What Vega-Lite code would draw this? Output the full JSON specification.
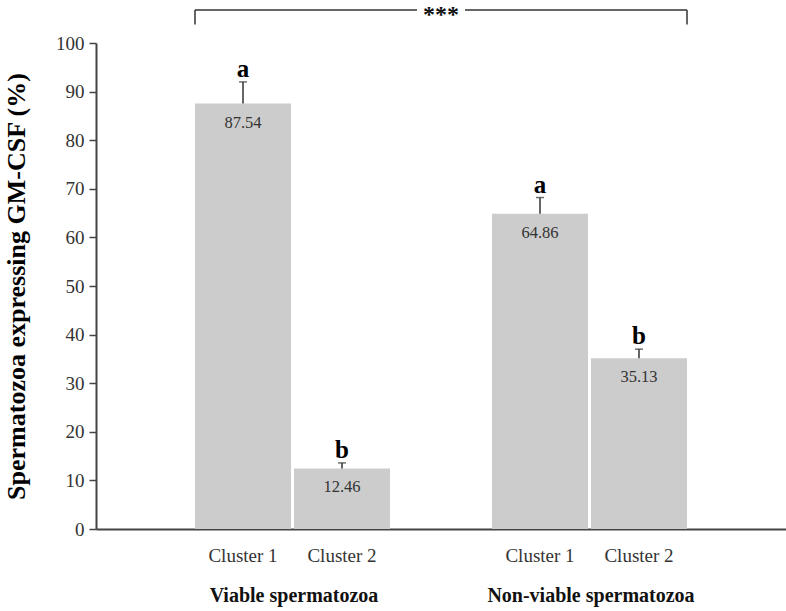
{
  "$schema": "https://vega.github.io/schema/vega-lite/v6.json",
  "width": 690,
  "height": 486,
  "autosize": {"type": "none"},
  "padding": {"left": 96, "top": 43, "right": 0, "bottom": 82},
  "background": "white",
  "config": {"view": {"stroke": null}, "font": "Liberation Serif"},
  "datasets": {
    "bars": [
      {"group": "Viable spermatozoa", "cluster": "Cluster 1", "key": "V1", "mean": 87.54, "upper": 92.0, "letter": "a"},
      {"group": "Viable spermatozoa", "cluster": "Cluster 2", "key": "V2", "mean": 12.46, "upper": 13.6, "letter": "b"},
      {"group": "Non-viable spermatozoa", "cluster": "Cluster 1", "key": "N1", "mean": 64.86, "upper": 68.2, "letter": "a"},
      {"group": "Non-viable spermatozoa", "cluster": "Cluster 2", "key": "N2", "mean": 35.13, "upper": 37.0, "letter": "b"}
    ],
    "groups": [
      {"group": "Viable spermatozoa", "second": "V2"},
      {"group": "Non-viable spermatozoa", "second": "N2"}
    ],
    "bracket": [
      {"start": "V1", "mid": "G", "end": "N2", "label": "***"}
    ]
  },
  "encoding": {
    "x": {
      "field": "key",
      "type": "nominal",
      "scale": {"domain": ["L", "V1", "V2", "G", "N1", "N2", "R"], "paddingInner": 0.03, "paddingOuter": 0},
      "axis": {
        "title": null,
        "ticks": false,
        "labelAngle": 0,
        "labelExpr": "datum.value == 'V1' || datum.value == 'N1' ? 'Cluster 1' : (datum.value == 'V2' || datum.value == 'N2' ? 'Cluster 2' : '')",
        "labelFont": "Liberation Serif",
        "labelFontSize": 19,
        "labelColor": "#333333",
        "labelPadding": 17,
        "domainColor": "#444444",
        "domainWidth": 2,
        "grid": false
      }
    }
  },
  "layer": [
    {
      "data": {"name": "bars"},
      "mark": {"type": "bar", "color": "#cccccc"},
      "encoding": {
        "y": {
          "field": "mean",
          "type": "quantitative",
          "scale": {"domain": [0, 100], "nice": false},
          "axis": {
            "title": "Spermatozoa expressing GM-CSF (%)",
            "titleFont": "Liberation Serif",
            "titleFontSize": 26,
            "titleFontWeight": "bold",
            "titleColor": "#000000",
            "titleAngle": -90,
            "titleX": -80,
            "titleY": 243,
            "titleAlign": "center",
            "titleBaseline": "middle",
            "values": [0, 10, 20, 30, 40, 50, 60, 70, 80, 90, 100],
            "labelFont": "Liberation Serif",
            "labelFontSize": 19,
            "labelColor": "#333333",
            "labelPadding": 5,
            "tickSize": 7,
            "tickColor": "#444444",
            "tickWidth": 1.5,
            "domainColor": "#444444",
            "domainWidth": 2,
            "grid": false
          }
        }
      }
    },
    {
      "data": {"name": "bars"},
      "mark": {"type": "rule", "color": "#333333", "strokeWidth": 1.5},
      "encoding": {
        "y": {"field": "mean", "type": "quantitative"},
        "y2": {"field": "upper"}
      }
    },
    {
      "data": {"name": "bars"},
      "mark": {"type": "tick", "orient": "horizontal", "color": "#333333", "size": 8, "thickness": 1.5},
      "encoding": {
        "y": {"field": "upper", "type": "quantitative"}
      }
    },
    {
      "data": {"name": "bars"},
      "mark": {"type": "text", "font": "Liberation Serif", "fontSize": 25, "fontWeight": "bold", "color": "#000000", "baseline": "alphabetic", "dy": -5},
      "encoding": {
        "y": {"field": "upper", "type": "quantitative"},
        "text": {"field": "letter"}
      }
    },
    {
      "data": {"name": "bars"},
      "mark": {"type": "text", "font": "Liberation Serif", "fontSize": 16.5, "color": "#333333", "baseline": "middle", "dy": 19},
      "encoding": {
        "y": {"field": "mean", "type": "quantitative"},
        "text": {"field": "mean", "format": ".2f"}
      }
    },
    {
      "data": {"name": "groups"},
      "mark": {"type": "text", "font": "Liberation Serif", "fontSize": 20, "fontWeight": "bold", "color": "#111111", "baseline": "middle", "align": "center", "dy": 67},
      "encoding": {
        "x": {"field": "second", "type": "nominal", "bandPosition": 0},
        "y": {"datum": 0, "type": "quantitative"},
        "text": {"field": "group"}
      }
    },
    {
      "data": {"name": "bracket"},
      "mark": {"type": "rule", "color": "#333333", "strokeWidth": 1.5},
      "encoding": {
        "x": {"field": "start", "type": "nominal", "bandPosition": 0},
        "x2": {"field": "mid", "bandPosition": 0.25},
        "y": {"datum": 106.8, "type": "quantitative"}
      }
    },
    {
      "data": {"name": "bracket"},
      "mark": {"type": "rule", "color": "#333333", "strokeWidth": 1.5},
      "encoding": {
        "x": {"field": "mid", "type": "nominal", "bandPosition": 0.75},
        "x2": {"field": "end", "bandPosition": 1},
        "y": {"datum": 106.8, "type": "quantitative"}
      }
    },
    {
      "data": {"name": "bracket"},
      "mark": {"type": "rule", "color": "#333333", "strokeWidth": 1.5},
      "encoding": {
        "x": {"field": "start", "type": "nominal", "bandPosition": 0},
        "y": {"datum": 103.8, "type": "quantitative"},
        "y2": {"datum": 106.8}
      }
    },
    {
      "data": {"name": "bracket"},
      "mark": {"type": "rule", "color": "#333333", "strokeWidth": 1.5},
      "encoding": {
        "x": {"field": "end", "type": "nominal", "bandPosition": 1},
        "y": {"datum": 103.8, "type": "quantitative"},
        "y2": {"datum": 106.8}
      }
    },
    {
      "data": {"name": "bracket"},
      "mark": {"type": "text", "font": "Liberation Serif", "fontSize": 24, "fontWeight": "bold", "color": "#111111", "baseline": "middle", "align": "center", "dy": 5},
      "encoding": {
        "x": {"field": "mid", "type": "nominal", "bandPosition": 0.5},
        "y": {"datum": 106.8, "type": "quantitative"},
        "text": {"field": "label"}
      }
    }
  ]
}
